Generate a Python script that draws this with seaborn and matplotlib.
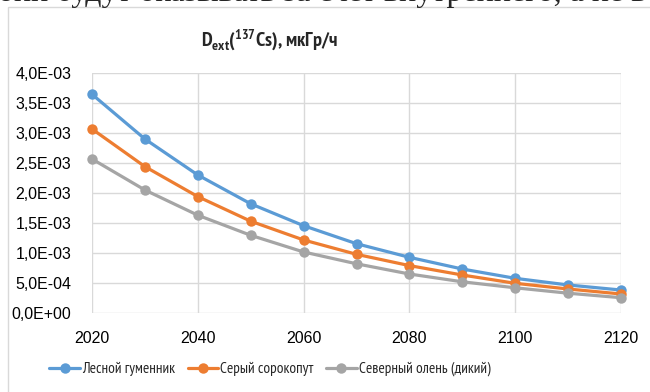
import matplotlib
matplotlib.use("Agg")
import matplotlib.pyplot as plt
import matplotlib.ticker as mticker
from matplotlib.patches import Rectangle
from matplotlib.lines import Line2D
import seaborn as sns
import pandas as pd

years = [2020, 2030, 2040, 2050, 2060, 2070, 2080, 2090, 2100, 2110, 2120]
goose = [3.645e-3, 2.90e-3, 2.30e-3, 1.82e-3, 1.455e-3, 1.155e-3, 0.928e-3, 0.733e-3, 0.578e-3, 0.467e-3, 0.383e-3]
shrike = [3.067e-3, 2.44e-3, 1.94e-3, 1.53e-3, 1.217e-3, 0.978e-3, 0.79e-3, 0.633e-3, 0.495e-3, 0.40e-3, 0.317e-3]
deer = [2.567e-3, 2.05e-3, 1.63e-3, 1.295e-3, 1.017e-3, 0.82e-3, 0.65e-3, 0.52e-3, 0.42e-3, 0.33e-3, 0.255e-3]
series_names = ["Лесной гуменник", "Серый сорокопут", "Северный олень (дикий)"]
colors = ["#5B9BD5", "#ED7D31", "#A5A5A5"]
title = r"D$_{\mathregular{ext}}$($^{\mathregular{137}}$Cs), мкГр/ч"
top_text = "они будут оказывать за счет внутреннего, а не в"

df = pd.DataFrame({
    "year": years * 3,
    "value": goose + shrike + deer,
    "series": [series_names[0]] * len(years) + [series_names[1]] * len(years) + [series_names[2]] * len(years),
})

sns.set_style("white")
narrow = ["PT Sans Narrow", "Roboto Condensed", "DejaVu Sans"]
tickfont = ["Liberation Sans", "DejaVu Sans"]
plt.rcParams["font.family"] = narrow
plt.rcParams["mathtext.fontset"] = "custom"
plt.rcParams["mathtext.rm"] = "PT Sans Narrow:bold"
plt.rcParams["mathtext.bf"] = "PT Sans Narrow:bold"

fig = plt.figure(figsize=(6.5, 3.92), dpi=100)
ax = fig.add_axes([92 / 650, 1 - 313 / 392, (621 - 92) / 650, (313 - 73) / 392])

# chart frame
fig.patches.append(Rectangle((8 / 650, -0.1), 1.2, 1 - 7 / 392 + 0.1, transform=fig.transFigure,
                             fill=False, edgecolor="#D9D9D9", linewidth=1.0, zorder=0))

sns.lineplot(data=df, x="year", y="value", hue="series", palette=colors, hue_order=series_names,
             marker="o", markersize=7.5, markeredgewidth=0, linewidth=2.3, ax=ax, legend=False,
             clip_on=False, zorder=3)

ax.set_xlim(2020, 2120)
ax.set_ylim(0, 4.0e-3)
ax.xaxis.set_major_locator(mticker.MultipleLocator(20))
ax.yaxis.set_major_locator(mticker.MultipleLocator(5e-4))

def yfmt(v, pos):
    return f"{v:.1E}".replace(".", ",")
ax.yaxis.set_major_formatter(mticker.FuncFormatter(yfmt))
ax.grid(True, color="#D9D9D9", linewidth=1.0)
for sp in ax.spines.values():
    sp.set_visible(False)
ax.tick_params(axis="both", length=0, labelsize=11.5, colors="#000000")
ax.tick_params(axis="x", pad=13)
ax.tick_params(axis="y", pad=15)
for lab in ax.get_xticklabels() + ax.get_yticklabels():
    lab.set_family(tickfont)
ax.set_xlabel("")
ax.set_ylabel("")

fig.text(270 / 650, 1 - 40 / 392, title, ha="center", va="center", fontsize=14.5, fontweight="bold",
         family=narrow)

handles = [Line2D([0], [0], color=c, marker="o", markersize=7.5, markeredgewidth=0, linewidth=2.3)
           for c in colors]
fig.legend(handles, series_names, loc="center", bbox_to_anchor=(270 / 650, 1 - 369 / 392), ncol=3,
           frameon=False, fontsize=11, handlelength=2.0, handletextpad=0.15, columnspacing=0.8)

fig.text(-2 / 650, 1 - 8.5 / 392, top_text, ha="left", va="bottom", fontsize=23,
         family=["Liberation Serif", "DejaVu Serif"])

fig.savefig("out.png", dpi=100)
